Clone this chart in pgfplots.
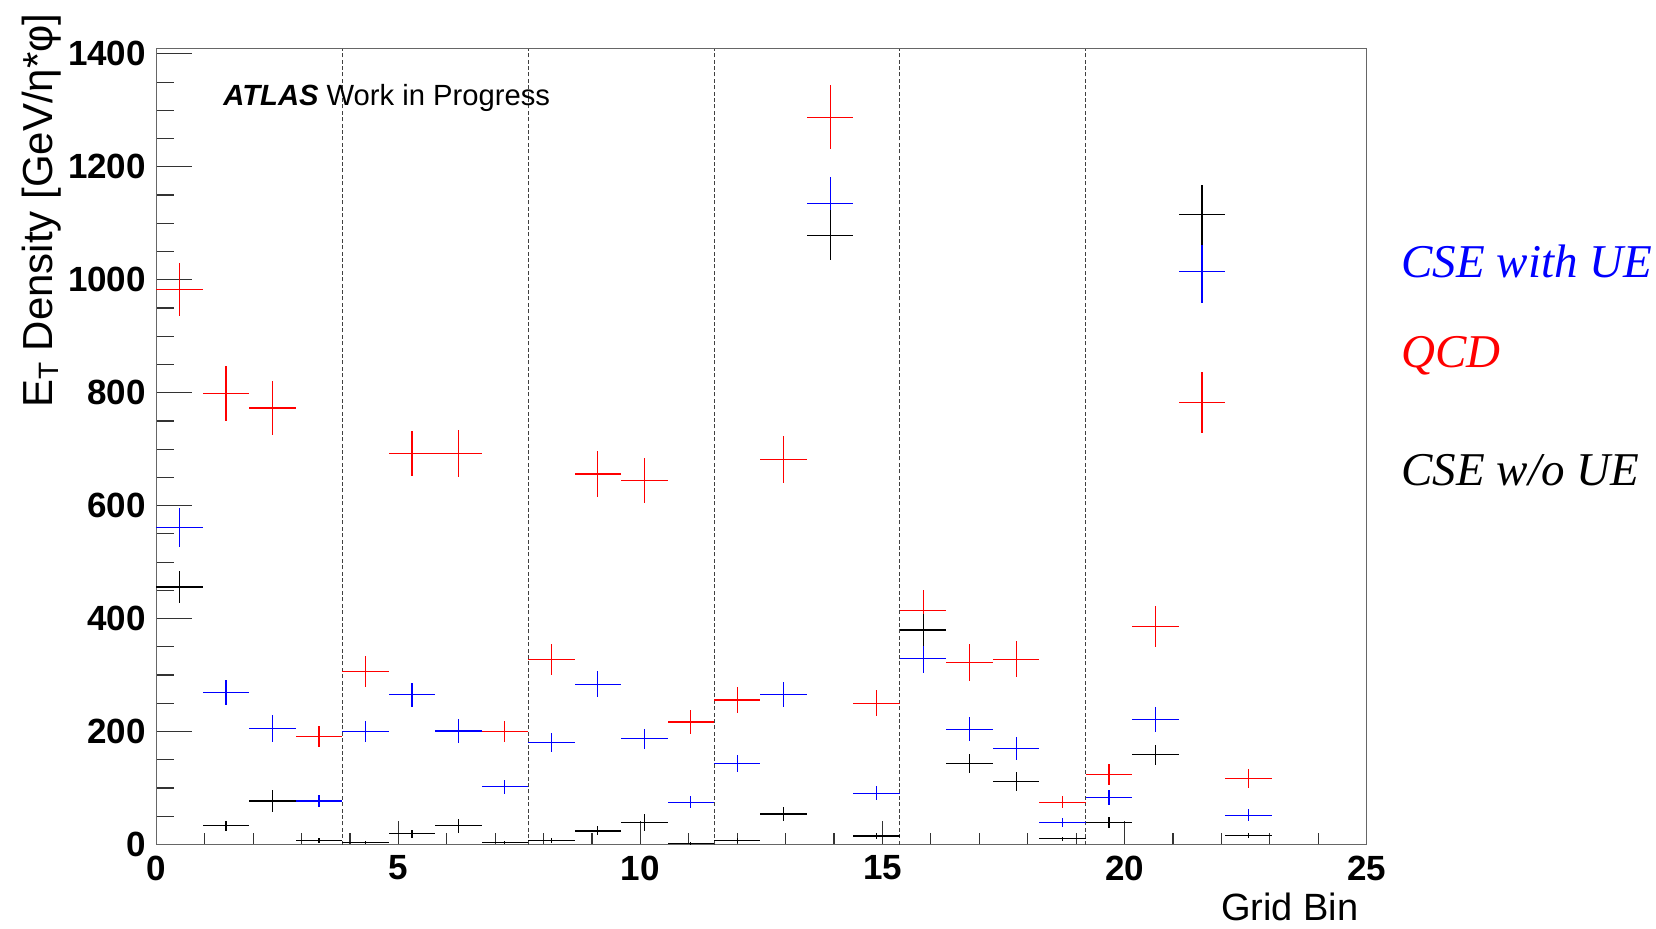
\documentclass[border=0pt]{standalone}
\usepackage{fontspec}
\setmainfont{Liberation Sans}
\newfontfamily\timesfont{Liberation Serif}
\usepackage{pgfplots}
\pgfplotsset{compat=1.18}
\usepackage{pgfplotstable}

% bin centre x, half width ex, QCD (r,er), CSE with UE (b,eb), CSE w/o UE (k,ek)
\pgfplotstableread{
x     ex    r     er   b     eb   k     ek
0.48  0.48  983   47   561   35   456   28
1.44  0.48  799   49   269   22   33    9
2.40  0.48  773   47   206   24   77    20
3.36  0.48  191   19   77    11   7     5
4.32  0.48  306   27   200   19   4     3
5.28  0.48  692   40   265   21   19    7
6.24  0.48  692   42   201   21   33    12
7.20  0.48  200   19   102   12   4     3
8.16  0.48  328   27   180   17   7     5
9.12  0.48  656   41   284   23   24    8
10.08 0.48  644   40   187   18   39    15
11.04 0.48  217   21   75    11   2     2
12.00 0.48  256   23   144   15   7     4
12.96 0.48  682   42   265   22   54    13
13.92 0.48  1288  57   1135  47   1079  44
14.88 0.48  250   23   91    12   15    5
15.84 0.48  414   36   329   26   380   28
16.80 0.48  322   33   204   21   144   17
17.76 0.48  328   32   170   21   111   17
18.72 0.48  75    11   39    8    10    4
19.68 0.48  124   19   83    13   39    9
20.64 0.48  386   36   222   22   159   18
21.60 0.48  783   54   1014  55   1115  53
22.56 0.48  117   17   52    10   16    5
}\griddata

\begin{document}
\begin{tikzpicture}
\path[use as bounding box] (0pt,0pt) rectangle (828pt,464pt);
\begin{axis}[
  at={(78.15pt,41.75pt)}, anchor=south west,
  scale only axis, width=605.15pt, height=397.85pt,
  xmin=0, xmax=25, ymin=0, ymax=1409,
  xtick={0,5,...,25}, minor x tick num=4,
  ytick={0,200,...,1400}, minor y tick num=3,
  xtick pos=bottom, ytick pos=left,
  tick align=inside,
  xtick style={black!80, line width=0.6pt, /pgfplots/major tick length=12pt, /pgfplots/minor tick length=6pt},
  ytick style={black!80, line width=0.6pt, /pgfplots/major tick length=18pt, /pgfplots/minor tick length=9pt},
  axis line style={black!60, line width=0.7pt},
  scaled ticks=false,
  /pgf/number format/assume math mode=true,
  /pgf/number format/1000 sep={},
  xticklabel style={font=\fontsize{17.5}{18}\selectfont\bfseries, anchor=north, inner sep=0pt, yshift=-5.5pt},
  yticklabel style={font=\fontsize{17.5}{18}\selectfont\bfseries, anchor=east, inner sep=0pt, xshift=-5pt},
  clip=false,
]
\foreach \xv in {3.84,7.68,11.52,15.36,19.2} {
  \edef\tmp{\noexpand\addplot[black!75, line width=0.5pt, dash pattern=on 2pt off 1.2pt] coordinates {(\xv,0) (\xv,1409)};}
  \tmp
}
\addplot[draw=none, mark=none,
  error bars/.cd, x dir=both, x explicit, y dir=both, y explicit, error mark=none,
  error bar style={draw=red, line width=0.6pt}]
  table[x=x, y=r, x error=ex, y error=er] {\griddata};
\addplot[draw=none, mark=none,
  error bars/.cd, x dir=both, x explicit, y dir=both, y explicit, error mark=none,
  error bar style={draw=blue, line width=0.6pt}]
  table[x=x, y=b, x error=ex, y error=eb] {\griddata};
\addplot[draw=none, mark=none,
  error bars/.cd, x dir=both, x explicit, y dir=both, y explicit, error mark=none,
  error bar style={draw=black, line width=0.6pt}]
  table[x=x, y=k, x error=ex, y error=ek] {\griddata};
\end{axis}
% ATLAS label
\node[anchor=base west, inner sep=0pt, font=\fontsize{14.6}{15}\selectfont] at (111.5pt,411pt)
  {\textbf{\textit{ATLAS}} Work in Progress};
% axis titles
\node[anchor=base east, rotate=90, inner sep=0pt, font=\fontsize{21}{22}\selectfont] at (26pt,457.5pt)
  {E\raisebox{-0.3ex}{\fontsize{14}{14}\selectfont T} Density [GeV/η*φ]};
\node[anchor=base east, inner sep=0pt, font=\fontsize{19}{20}\selectfont] at (679.5pt,4pt) {Grid Bin};
% legend labels
\node[anchor=base west, inner sep=0pt, text=blue, font=\timesfont\itshape\fontsize{23.5}{24}\selectfont] at (700.5pt,325.2pt) {CSE with UE};
\node[anchor=base west, inner sep=0pt, text=red, font=\timesfont\itshape\fontsize{23.5}{24}\selectfont] at (700.5pt,280pt) {QCD};
\node[anchor=base west, inner sep=0pt, text=black, font=\timesfont\itshape\fontsize{23.5}{24}\selectfont] at (700.5pt,221.2pt) {CSE w/o UE};
\end{tikzpicture}
\end{document}
